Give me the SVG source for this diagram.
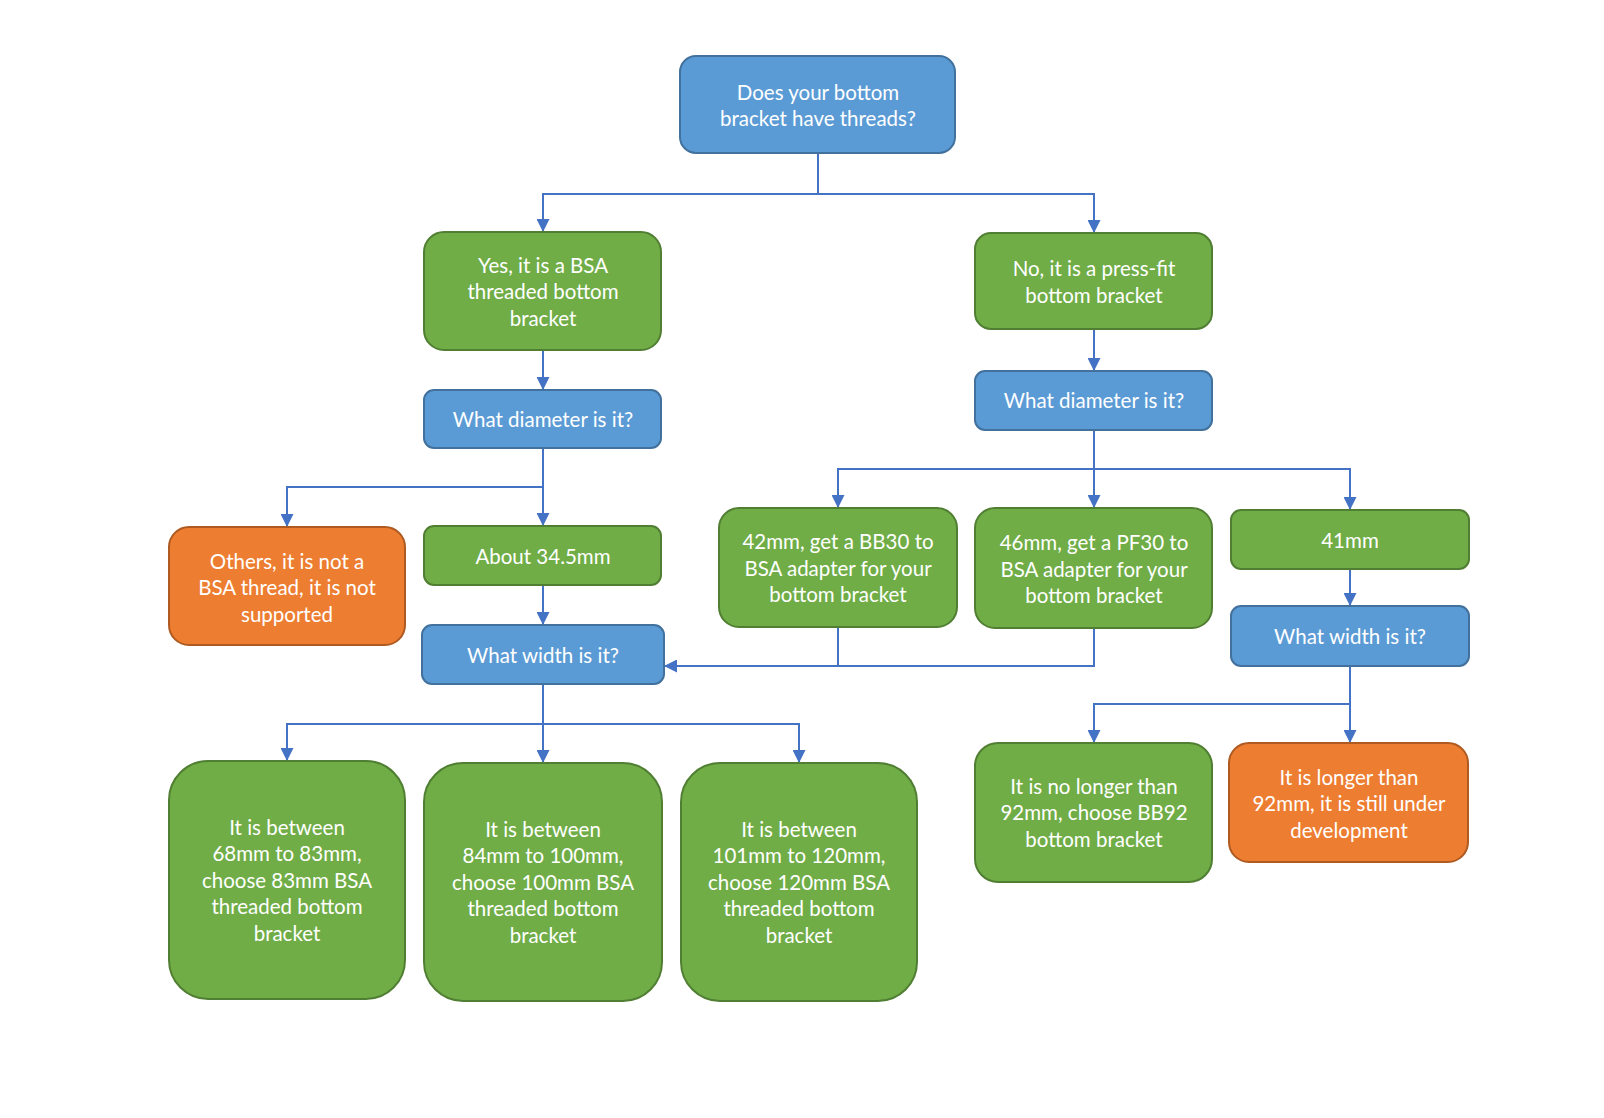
<svg xmlns="http://www.w3.org/2000/svg" width="1604" height="1118" viewBox="0 0 1604 1118">
<style>
.b{fill:#5B9BD5;stroke:#41719C;stroke-width:2}
.g{fill:#70AD47;stroke:#507E32;stroke-width:2}
.o{fill:#ED7D31;stroke:#AE5A21;stroke-width:2}
text{font-family:Lato,"Liberation Sans",sans-serif;font-size:20.5px;fill:#fff;text-anchor:middle}
.c{fill:none;stroke:#4472C4;stroke-width:2}
</style>
<defs>
<marker id="a" markerUnits="userSpaceOnUse" markerWidth="13" markerHeight="13" refX="12" refY="6.5" orient="auto"><path d="M0,0L13,6.5L0,13z" fill="#4472C4"/></marker>
</defs>
<rect width="1604" height="1118" fill="#fff"/>
<g id="connectors">
<path class="c" d="M818,153V194H543V231" marker-end="url(#a)"/>
<path class="c" d="M818,194H1094V232" marker-end="url(#a)"/>
<path class="c" d="M543,350V389" marker-end="url(#a)"/>
<path class="c" d="M1094,329V370" marker-end="url(#a)"/>
<path class="c" d="M543,448V487H287V526" marker-end="url(#a)"/>
<path class="c" d="M543,487V525" marker-end="url(#a)"/>
<path class="c" d="M543,585V624" marker-end="url(#a)"/>
<path class="c" d="M543,684V724H287V760" marker-end="url(#a)"/>
<path class="c" d="M543,724V762" marker-end="url(#a)"/>
<path class="c" d="M543,724H799V762" marker-end="url(#a)"/>
<path class="c" d="M1094,430V469H838V507" marker-end="url(#a)"/>
<path class="c" d="M1094,469V507" marker-end="url(#a)"/>
<path class="c" d="M1094,469H1350V509" marker-end="url(#a)"/>
<path class="c" d="M838,627V666H1094V628"/>
<path class="c" d="M838,666H665" marker-end="url(#a)"/>
<path class="c" d="M1350,569V605" marker-end="url(#a)"/>
<path class="c" d="M1350,666V704H1094V742" marker-end="url(#a)"/>
<path class="c" d="M1350,704V742" marker-end="url(#a)"/>
</g>
<g id="n1"><rect class="b" x="680" y="56" width="275" height="97" rx="16"/><text x="818" y="100">Does your bottom</text><text x="818" y="126">bracket have threads?</text></g>
<g id="n2"><rect class="g" x="424" y="232" width="237" height="118" rx="20"/><text x="543" y="273">Yes, it is a BSA</text><text x="543" y="299">threaded bottom</text><text x="543" y="326">bracket</text></g>
<g id="n3"><rect class="g" x="975" y="233" width="237" height="96" rx="16"/><text x="1094" y="276">No, it is a press-fit</text><text x="1094" y="303">bottom bracket</text></g>
<g id="n4"><rect class="b" x="424" y="390" width="237" height="58" rx="10"/><text x="543" y="427">What diameter is it?</text></g>
<g id="n5"><rect class="b" x="975" y="371" width="237" height="59" rx="10"/><text x="1094" y="408">What diameter is it?</text></g>
<g id="n6"><rect class="o" x="169" y="527" width="236" height="118" rx="20"/><text x="287" y="569">Others, it is not a</text><text x="287" y="595">BSA thread, it is not</text><text x="287" y="622">supported</text></g>
<g id="n7"><rect class="g" x="424" y="526" width="237" height="59" rx="10"/><text x="543" y="564">About 34.5mm</text></g>
<g id="n8"><rect class="b" x="422" y="625" width="242" height="59" rx="10"/><text x="543" y="663">What width is it?</text></g>
<g id="n9"><rect class="g" x="719" y="508" width="238" height="119" rx="20"/><text x="838" y="549">42mm, get a BB30 to</text><text x="838" y="576">BSA adapter for your</text><text x="838" y="602">bottom bracket</text></g>
<g id="n10"><rect class="g" x="975" y="508" width="237" height="120" rx="20"/><text x="1094" y="550">46mm, get a PF30 to</text><text x="1094" y="577">BSA adapter for your</text><text x="1094" y="603">bottom bracket</text></g>
<g id="n11"><rect class="g" x="1231" y="510" width="238" height="59" rx="10"/><text x="1350" y="548">41mm</text></g>
<g id="n12"><rect class="b" x="1231" y="606" width="238" height="60" rx="10"/><text x="1350" y="644">What width is it?</text></g>
<g id="n13"><rect class="g" x="169" y="761" width="236" height="238" rx="39"/><text x="287" y="835">It is between</text><text x="287" y="861">68mm to 83mm,</text><text x="287" y="888">choose 83mm BSA</text><text x="287" y="914">threaded bottom</text><text x="287" y="941">bracket</text></g>
<g id="n14"><rect class="g" x="424" y="763" width="238" height="238" rx="39"/><text x="543" y="837">It is between</text><text x="543" y="863">84mm to 100mm,</text><text x="543" y="890">choose 100mm BSA</text><text x="543" y="916">threaded bottom</text><text x="543" y="943">bracket</text></g>
<g id="n15"><rect class="g" x="681" y="763" width="236" height="238" rx="39"/><text x="799" y="837">It is between</text><text x="799" y="863">101mm to 120mm,</text><text x="799" y="890">choose 120mm BSA</text><text x="799" y="916">threaded bottom</text><text x="799" y="943">bracket</text></g>
<g id="n16"><rect class="g" x="975" y="743" width="237" height="139" rx="23"/><text x="1094" y="794">It is no longer than</text><text x="1094" y="820">92mm, choose BB92</text><text x="1094" y="847">bottom bracket</text></g>
<g id="n17"><rect class="o" x="1229" y="743" width="239" height="119" rx="20"/><text x="1349" y="785">It is longer than</text><text x="1349" y="811">92mm, it is still under</text><text x="1349" y="838">development</text></g>
</svg>
